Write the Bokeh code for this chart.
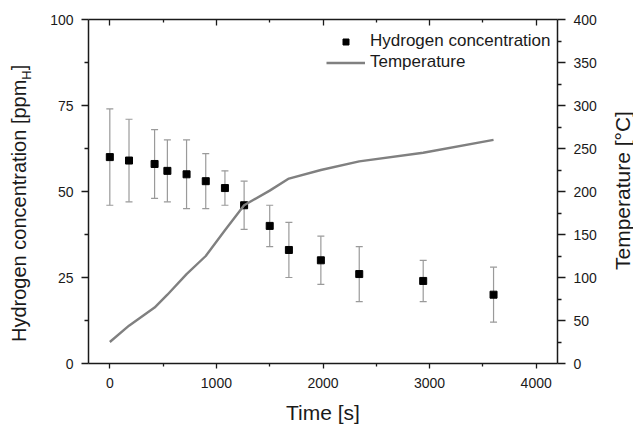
from bokeh.plotting import figure
from bokeh.layouts import row
from bokeh.models import (ColumnDataSource, Range1d, LinearAxis, FixedTicker, Whisker,
                          TeeHead, Legend, LegendItem, CustomJSTickFormatter, Div)
from bokeh.embed import file_html
from bokeh.resources import INLINE

# ---- data ----
time_s = [0, 180, 420, 540, 720, 900, 1080, 1260, 1500, 1680, 1980, 2340, 2940, 3600]
h_conc = [60, 59, 58, 56, 55, 53, 51, 46, 40, 33, 30, 26, 24, 20]
h_upper = [74, 71, 68, 65, 65, 61, 56, 53, 46, 41, 37, 34, 30, 28]
h_lower = [46, 47, 48, 47, 45, 45, 46, 39, 34, 25, 23, 18, 18, 12]
temp_c = [25, 44, 65, 80, 104, 125, 155, 184, 201, 215, 225, 235, 245, 260]

x_ticks = [0, 1000, 2000, 3000, 4000]
x_minor = [500, 1500, 2500, 3500]
h_ticks = [0, 25, 50, 75, 100]
h_minor = [12.5, 37.5, 62.5, 87.5]
t_ticks = [0, 50, 100, 150, 200, 250, 300, 350, 400]
t_minor = [25, 75, 125, 175, 225, 275, 325, 375]

FONT = "Liberation Sans"
INK = "#1a1a1a"

LEFT_W, RIGHT_W, H = 40, 30, 427

p = figure(width=633 - LEFT_W - RIGHT_W, height=H, output_backend="svg", toolbar_location=None,
           x_range=Range1d(-200, 4200), y_range=Range1d(0, 100),
           min_border_left=48, min_border_right=46, min_border_top=19, min_border_bottom=64)
p.xgrid.visible = False
p.ygrid.visible = False
p.outline_line_color = None
p.background_fill_color = "white"
p.border_fill_color = "white"
p.extra_y_ranges = {"temp": Range1d(0, 400)}


def style_axis(ax):
    ax.axis_line_color = INK
    ax.axis_line_width = 1.5
    ax.major_tick_line_color = INK
    ax.major_tick_line_width = 1.3
    ax.minor_tick_line_color = INK
    ax.minor_tick_line_width = 1.3
    ax.major_label_text_font = FONT
    ax.major_label_text_font_size = "14px"
    ax.major_label_text_color = INK
    ax.axis_label_text_font = FONT
    ax.axis_label_text_font_size = "21px"
    ax.axis_label_text_font_style = "normal"
    ax.axis_label_text_color = INK


xa = p.xaxis[0]
style_axis(xa)
xa.ticker = FixedTicker(ticks=x_ticks, minor_ticks=x_minor)
xa.major_tick_out = 5
xa.major_tick_in = 0
xa.minor_tick_out = 3
xa.minor_tick_in = 0
xa.major_label_standoff = 9
xa.axis_label = "Time [s]"
xa.axis_label_standoff = 10

ya = p.yaxis[0]
style_axis(ya)
ya.ticker = FixedTicker(ticks=h_ticks, minor_ticks=h_minor)
ya.major_tick_out = 7
ya.major_tick_in = 0
ya.minor_tick_out = 4
ya.minor_tick_in = 0
ya.major_label_standoff = 8

top = LinearAxis(ticker=FixedTicker(ticks=x_ticks, minor_ticks=x_minor),
                 formatter=CustomJSTickFormatter(code="return ''"))
style_axis(top)
top.major_tick_in = 6
top.major_tick_out = 0
top.minor_tick_in = 3
top.minor_tick_out = 0
top.major_label_text_font_size = "0px"
top.major_label_standoff = 0
p.add_layout(top, "above")

right = LinearAxis(y_range_name="temp", ticker=FixedTicker(ticks=t_ticks, minor_ticks=t_minor))
style_axis(right)
right.major_tick_out = 8
right.major_tick_in = 0
right.minor_tick_out = 4
right.minor_tick_in = 0
right.major_label_standoff = 8
p.add_layout(right, "right")

src = ColumnDataSource(dict(t=time_s, h=h_conc, up=h_upper, lo=h_lower, temp=temp_c))

ERR = "#9a9a9a"
whisk = Whisker(base="t", upper="up", lower="lo", source=src,
                line_color=ERR, line_width=1.2,
                upper_head=TeeHead(size=7, line_color=ERR, line_width=1.2),
                lower_head=TeeHead(size=7, line_color=ERR, line_width=1.2))
p.add_layout(whisk)

sq = p.scatter("t", "h", source=src, marker="square", size=7,
               fill_color="black", line_color="black")
ln = p.line("t", "temp", source=src, y_range_name="temp",
            line_color="#808080", line_width=2.4)

legend = Legend(items=[LegendItem(label="Hydrogen concentration", renderers=[sq]),
                       LegendItem(label="Temperature", renderers=[ln])],
                location=(233, 286), margin=0, padding=5, spacing=1,
                glyph_width=39, glyph_height=15, label_height=15, label_standoff=5,
                label_text_font=FONT, label_text_font_size="17px", label_text_color=INK,
                label_text_baseline="middle",
                border_line_alpha=0, background_fill_alpha=0)
p.add_layout(legend)

# axis titles drawn as HTML text (left one needs a subscript)
TITLE_CSS = ("position:absolute; transform:rotate(-90deg); transform-origin:0 0; "
             "white-space:nowrap; color:%s; font-family:'%s';" % (INK, FONT))
left_title = Div(
    text=('<div style="%s left:8px; top:342px; font-size:20px; line-height:23px;">'
          'Hydrogen concentration [ppm<span style="font-size:13px; vertical-align:-5px; '
          'line-height:0;">H</span>]</div>') % TITLE_CSS,
    width=LEFT_W, height=H, margin=0, styles={"position": "relative", "overflow": "visible"})
right_title = Div(
    text=('<div style="%s left:8px; top:270px; font-size:21px; line-height:24px;">'
          'Temperature [°C]</div>') % TITLE_CSS,
    width=RIGHT_W, height=H, margin=0, styles={"position": "relative", "overflow": "visible"})

layout = row(left_title, p, right_title, spacing=0)

open("out.html", "w").write(file_html(layout, INLINE))
